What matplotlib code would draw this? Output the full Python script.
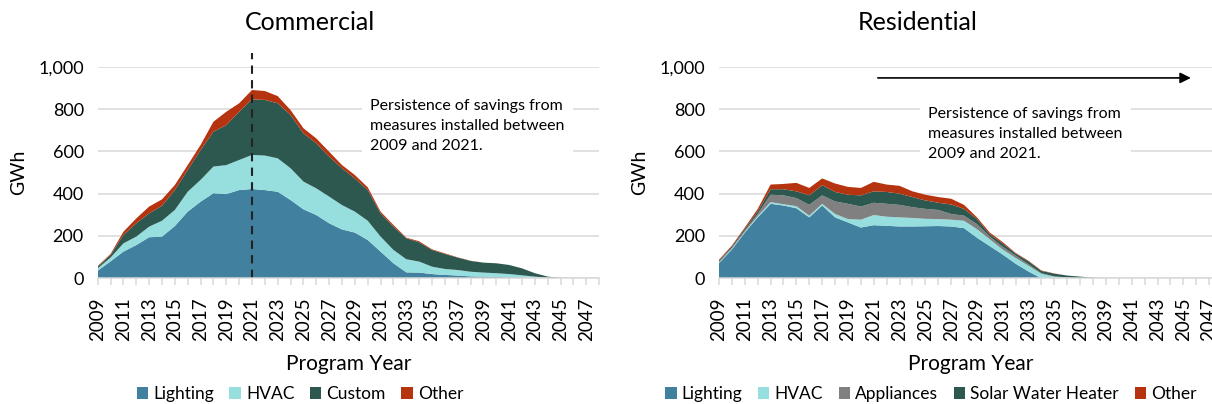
import matplotlib
matplotlib.use("Agg")
import matplotlib.pyplot as plt
import numpy as np

plt.rcParams['font.family'] = ['Lato', 'DejaVu Sans']

years = list(range(2009, 2049))

# Commercial (GWh), stacked layers
com_lighting = [36, 80, 126, 157, 194, 197, 247, 315, 362, 402, 398, 417, 422, 417, 409, 370, 326, 299, 260, 231, 216, 181,
                126, 71, 28, 27, 20, 16, 13, 9, 8, 6, 5, 4, 2, 1, 0, 0, 0, 0]
com_hvac = [11, 18, 39, 40, 50, 75, 76, 94, 103, 126, 137, 142, 161, 163, 158, 150, 131, 126, 126, 115, 99, 91,
            71, 63, 62, 52, 35, 28, 26, 22, 19, 18, 15, 10, 6, 2, 1, 0, 0, 0]
com_custom = [8, 12, 40, 63, 63, 71, 94, 103, 141, 165, 189, 228, 263, 263, 260, 252, 228, 213, 189, 174, 157, 145,
              110, 110, 99, 91, 79, 71, 59, 51, 47, 47, 43, 33, 16, 5, 1, 1, 0, 0]
com_other = [3, 5, 15, 23, 32, 30, 24, 23, 24, 47, 63, 40, 44, 42, 34, 23, 24, 23, 23, 15, 16, 13,
             8, 8, 3, 5, 3, 3, 1, 1, 0, 0, 0, 0, 0, 0, 0, 0, 0, 0]

# Residential (GWh), stacked layers
res_lighting = [72, 136, 216, 288, 352, 344, 331, 288, 344, 288, 264, 240, 251, 248, 245, 245, 246, 247, 245, 237, 192, 152,
                112, 69, 32, 0, 0, 0, 0, 0, 0, 0, 0, 0, 0, 0, 0, 0, 0, 0]
res_hvac = [3, 4, 4, 6, 8, 6, 10, 8, 8, 16, 16, 37, 48, 43, 43, 40, 35, 33, 32, 35, 40, 32,
            24, 27, 27, 21, 8, 4, 0, 0, 0, 0, 0, 0, 0, 0, 0, 0, 0, 0]
res_appliances = [4, 5, 6, 10, 35, 42, 38, 51, 40, 59, 72, 62, 58, 61, 59, 51, 47, 43, 27, 24, 24, 13,
                  13, 11, 7, 3, 1, 0, 0, 0, 0, 0, 0, 0, 0, 0, 0, 0, 0, 0]
res_swh = [5, 6, 8, 12, 26, 29, 32, 45, 48, 45, 43, 53, 54, 56, 53, 48, 40, 34, 45, 32, 24, 11,
           16, 10, 14, 11, 13, 9, 8, 3, 0, 0, 0, 0, 0, 0, 0, 0, 0, 0]
res_other = [4, 4, 6, 12, 22, 25, 40, 35, 32, 40, 37, 35, 45, 35, 37, 27, 27, 27, 27, 19, 8, 8,
             6, 3, 3, 2, 1, 0, 0, 0, 0, 0, 0, 0, 0, 0, 0, 0, 0, 0]

com_labels = ["Lighting", "HVAC", "Custom", "Other"]
res_labels = ["Lighting", "HVAC", "Appliances", "Solar Water Heater", "Other"]
tick_years = list(range(2009, 2049, 2))
annotation = "Persistence of savings from\nmeasures installed between\n2009 and 2021."

C_LIGHT = "#41809E"
C_HVAC = "#97DEDE"
C_CUSTOM = "#2D5850"
C_OTHER = "#B5330E"
C_APPL = "#808080"

W, H = 1212, 404
fig = plt.figure(figsize=(12.12, 4.04), dpi=100)

ax1 = fig.add_axes([97.7 / W, 1 - 278.3 / H, 501.5 / W, (278.3 - 66.7) / H])
ax2 = fig.add_axes([719 / W, 1 - 278.3 / H, 503 / W, (278.3 - 66.7) / H])


def style(ax):
    ax.set_xlim(2009, 2048)
    ax.set_ylim(0, 1000)
    ax.set_yticks(range(0, 1001, 200))
    ax.set_yticklabels([f"{v:,}" for v in range(0, 1001, 200)], fontsize=13)
    ax.grid(axis='y', color="#D9D9D9", linewidth=1.1, zorder=0)
    ax.set_axisbelow(True)
    for s in ["top", "right", "left"]:
        ax.spines[s].set_visible(False)
    ax.spines["bottom"].set_color("#D9D9D9")
    ax.spines["bottom"].set_linewidth(1.1)
    ax.spines["bottom"].set_zorder(5)
    ax.set_xticks(years, minor=True)
    ax.set_xticks(tick_years)
    ax.set_xticklabels([str(y) for y in tick_years], rotation=90, fontsize=13.5)
    ax.tick_params(axis='x', which='both', length=5, color="#D9D9D9", width=1.1, pad=9)
    ax.tick_params(axis='y', length=0, pad=10)
    ax.set_xlabel("Program Year", fontsize=15, labelpad=9)
    ax.set_ylabel("GWh", fontsize=14, labelpad=8)


leg_kw = dict(frameon=False, fontsize=12.5, handlelength=0.65, handleheight=0.65,
              handletextpad=0.3, columnspacing=0.9)

ax1.stackplot(years, com_lighting, com_hvac, com_custom, com_other,
              colors=[C_LIGHT, C_HVAC, C_CUSTOM, C_OTHER], labels=com_labels, zorder=2)
style(ax1)
ax1.plot([2021, 2021], [0, 1065], linestyle=(0, (4, 3)), color="#222222", linewidth=1.5,
         clip_on=False, zorder=4)
ax1.text(2030.2, 849, annotation, fontsize=11.5, va="top", ha="left", linespacing=1.55,
         bbox=dict(facecolor="white", edgecolor="none", pad=6), zorder=3)
ax1.legend(loc="center", bbox_to_anchor=((300 - 97.7) / 501.5, -(394 - 278.3) / 211.6), ncol=4,
           **leg_kw)

ax2.stackplot(years, res_lighting, res_hvac, res_appliances, res_swh, res_other,
              colors=[C_LIGHT, C_HVAC, C_APPL, C_CUSTOM, C_OTHER], labels=res_labels, zorder=2)
style(ax2)
ax2.annotate("", xy=(2045.8, 947), xytext=(2021.1, 947),
             arrowprops=dict(arrowstyle="-|>", color="black", lw=1.2, mutation_scale=16), zorder=4)
ax2.text(2025.2, 811, annotation, fontsize=11.5, va="top", ha="left", linespacing=1.55,
         bbox=dict(facecolor="white", edgecolor="none", pad=6), zorder=3)
ax2.legend(loc="center", bbox_to_anchor=((931 - 719) / 503, -(394 - 278.3) / 211.6), ncol=5,
           **leg_kw)

fig.text(310 / W, 1 - 22 / H, "Commercial", fontsize=18, ha="center", va="center")
fig.text(918 / W, 1 - 22 / H, "Residential", fontsize=18, ha="center", va="center")

fig.savefig("out.png", dpi=100)
